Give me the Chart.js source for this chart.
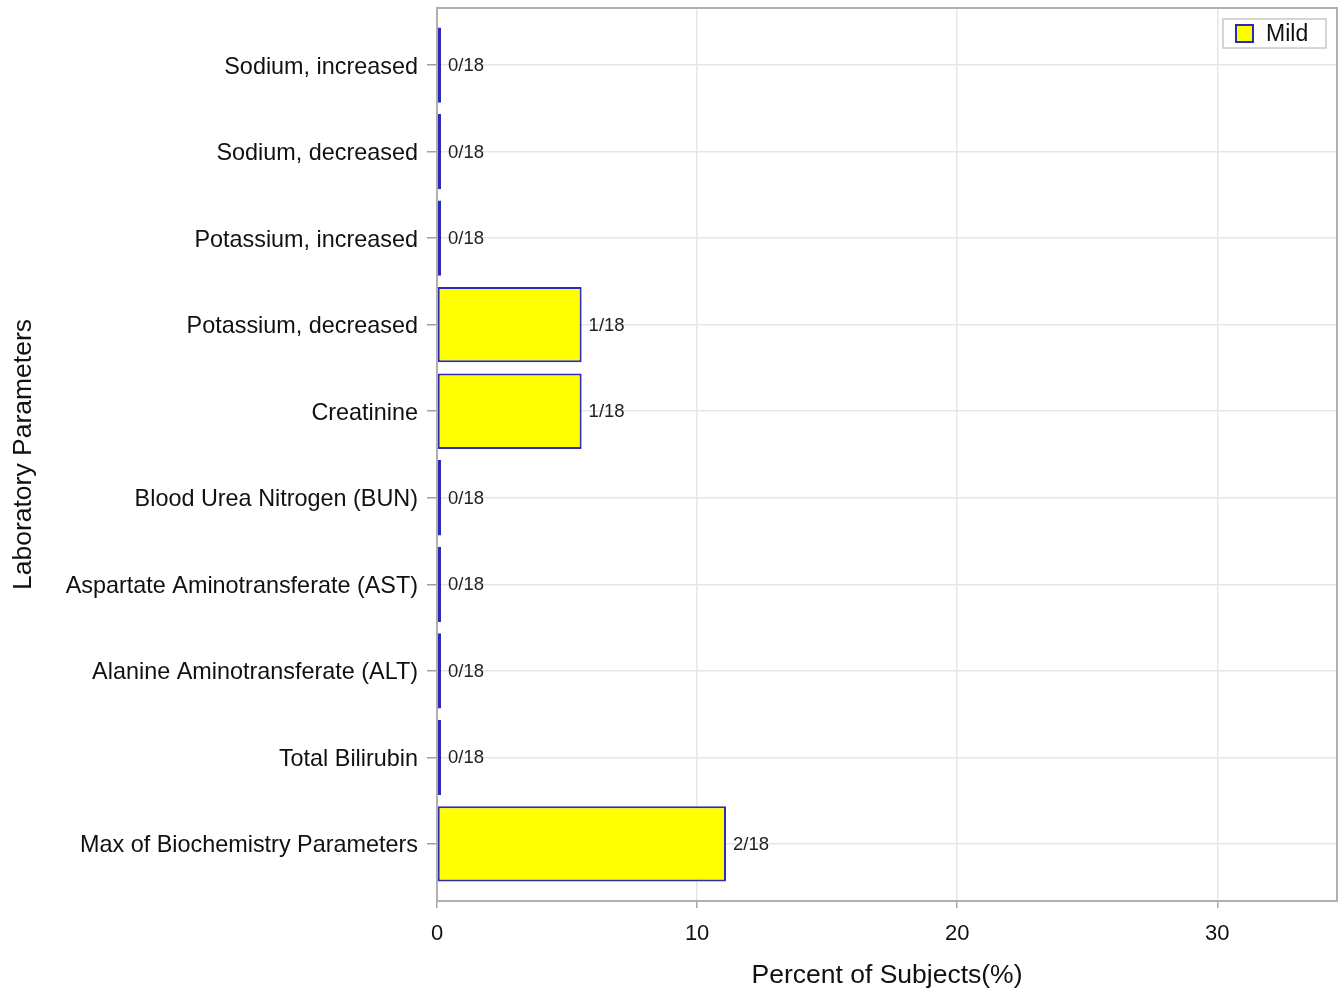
<!DOCTYPE html>
<html>
<head>
<meta charset="utf-8">
<script src="https://cdn.jsdelivr.net/npm/chart.js@4/dist/chart.umd.min.js"></script>
<style>
  html, body { margin: 0; padding: 0; background: #fff; }
  #wrap { width: 1340px; height: 992px; }
</style>
</head>
<body>
<div id="wrap"><canvas id="c" width="1340" height="992"></canvas></div>
<script>
// ---- data (top to bottom) ----
const categories = [
  "Sodium, increased",
  "Sodium, decreased",
  "Potassium, increased",
  "Potassium, decreased",
  "Creatinine",
  "Blood Urea Nitrogen (BUN)",
  "Aspartate Aminotransferate (AST)",
  "Alanine Aminotransferate (ALT)",
  "Total Bilirubin",
  "Max of Biochemistry Parameters"
];
const mildPercent = [0, 0, 0, 5.56, 5.56, 0, 0, 0, 0, 11.11];
const countLabels = ["0/18", "0/18", "0/18", "1/18", "1/18", "0/18", "0/18", "0/18", "0/18", "2/18"];
const xTicks = [0, 10, 20, 30];
const seriesName = "Mild";

const FONT = "'Liberation Sans', Arial, Helvetica, sans-serif";
const BAR_FILL = "#ffff00";
const BAR_EDGE = "#2b2bb8";

const points = categories.map((c, i) => ({ x: mildPercent[i], y: i }));

const framePlugin = {
  id: 'frame',
  afterDraw(chart) {
    const { ctx, chartArea: a } = chart;
    ctx.save();
    ctx.strokeStyle = '#b0b0b0';
    ctx.lineWidth = 2;
    ctx.strokeRect(a.left, a.top, a.right - a.left, a.bottom - a.top);
    ctx.restore();
  }
};

const valueLabelPlugin = {
  id: 'valueLabels',
  afterDatasetsDraw(chart) {
    const { ctx } = chart;
    const meta = chart.getDatasetMeta(0);
    ctx.save();
    ctx.font = "18.5px " + FONT;
    ctx.fillStyle = '#222';
    ctx.textAlign = 'left';
    ctx.textBaseline = 'middle';
    meta.data.forEach((el, i) => {
      ctx.fillText(countLabels[i], el.x + 7, el.y + 1);
    });
    ctx.restore();
  }
};

const legendPlugin = {
  id: 'boxLegend',
  afterDraw(chart) {
    const { ctx, chartArea: a } = chart;
    const ds = chart.data.datasets[0];
    const bx = a.right - 114, by = a.top + 11, bw = 103, bh = 29;
    ctx.save();
    ctx.fillStyle = '#fff';
    ctx.fillRect(bx, by, bw, bh);
    ctx.strokeStyle = '#c8c8c8';
    ctx.lineWidth = 1.5;
    ctx.strokeRect(bx, by, bw, bh);
    ctx.fillStyle = ds.backgroundColor;
    ctx.fillRect(bx + 13, by + 6, 17, 17);
    ctx.strokeStyle = ds.borderColor;
    ctx.lineWidth = 2;
    ctx.strokeRect(bx + 13, by + 6, 17, 17);
    ctx.fillStyle = '#111';
    ctx.font = "23px " + FONT;
    ctx.textBaseline = 'middle';
    ctx.textAlign = 'left';
    ctx.fillText(ds.label, bx + 43, by + bh / 2 + 1);
    ctx.restore();
  }
};

new Chart(document.getElementById('c'), {
  type: 'bar',
  data: {
    datasets: [{
      label: seriesName,
      data: points,
      backgroundColor: BAR_FILL,
      borderColor: BAR_EDGE,
      borderWidth: 2,
      borderSkipped: false,
      minBarLength: 4,
      categoryPercentage: 1.0,
      barPercentage: 0.87
    }]
  },
  options: {
    indexAxis: 'y',
    responsive: false,
    animation: false,
    layout: { padding: { top: 8, right: 3, left: 0, bottom: 0 } },
    plugins: { legend: { display: false }, tooltip: { enabled: false } },
    scales: {
      x: {
        type: 'linear',
        min: 0,
        max: 34.6,
        afterBuildTicks: (s) => { s.ticks = xTicks.map(v => ({ value: v })); },
        afterFit: (s) => { s.height = 91; s.paddingLeft = 0; s.paddingRight = 0; },
        grid: { color: '#e6e6e6', lineWidth: 1.5, tickColor: '#a8a8a8', tickLength: 7, tickWidth: 1.5, drawTicks: true },
        border: { color: '#b0b0b0', width: 2 },
        ticks: { font: { family: FONT, size: 22 }, color: '#111', padding: 13, maxRotation: 0 },
        title: { display: true, text: 'Percent of Subjects(%)', font: { family: FONT, size: 26.5 }, color: '#111', padding: { top: 4, bottom: 0 } }
      },
      y: {
        type: 'linear',
        reverse: true,
        offset: false,
        min: -0.66,
        max: 9.66,
        afterBuildTicks: (s) => { s.ticks = categories.map((c, i) => ({ value: i })); },
        afterFit: (s) => { s.width = 437; s.paddingTop = 0; s.paddingBottom = 0; },
        grid: { offset: false, color: '#e6e6e6', lineWidth: 1.5, tickColor: '#a0a0a0', tickWidth: 1.5, tickLength: 10 },
        border: { color: '#b0b0b0', width: 2 },
        ticks: {
          font: { family: FONT, size: 23.4 }, color: '#111', padding: 9, labelOffset: 2,
          callback: (v) => categories[v]
        },
        title: { display: true, text: 'Laboratory Parameters', font: { family: FONT, size: 26.5 }, color: '#111', padding: { top: 8, bottom: 4 } }
      }
    }
  },
  plugins: [framePlugin, valueLabelPlugin, legendPlugin]
});
</script>
</body>
</html>
